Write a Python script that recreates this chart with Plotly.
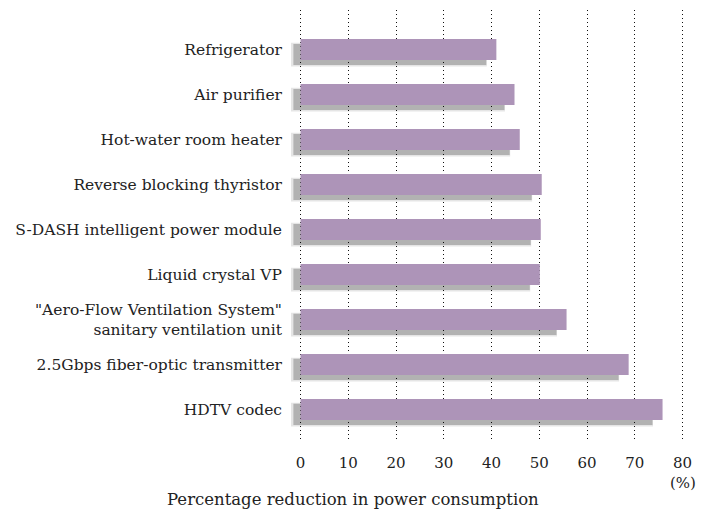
import plotly.graph_objects as go

# Appliances / devices, top to bottom
categories = [
    "Refrigerator",
    "Air purifier",
    "Hot-water room heater",
    "Reverse blocking thyristor",
    "S-DASH intelligent power module",
    "Liquid crystal VP",
    "\"Aero-Flow Ventilation System\"<br>sanitary ventilation unit",
    "2.5Gbps fiber-optic transmitter",
    "HDTV codec",
]
reduction = [41.0, 44.8, 45.9, 50.5, 50.3, 50.1, 55.7, 68.7, 75.8]
x_ticks = [0, 10, 20, 30, 40, 50, 60, 70, 80]

FONT = "DejaVu Serif, Liberation Serif, serif"
BAR_COLOR = "#ad94b8"

fig = go.Figure()

# soft drop shadow under each bar (two layers to fake a blur)
fig.add_trace(go.Bar(
    y=categories,
    x=[v + 0.2 for v in reduction],
    base=-2.2,
    orientation="h",
    width=0.53,
    offset=-0.15,
    marker=dict(color="rgba(0,0,0,0.10)", line=dict(width=0)),
    hoverinfo="skip",
    showlegend=False,
))
fig.add_trace(go.Bar(
    y=categories,
    x=[v - 0.6 for v in reduction],
    base=-1.5,
    orientation="h",
    width=0.47,
    offset=-0.125,
    marker=dict(color="rgba(0,0,0,0.22)", line=dict(width=0)),
    hoverinfo="skip",
    showlegend=False,
))

fig.add_trace(go.Bar(
    y=categories,
    x=reduction,
    orientation="h",
    width=0.47,
    marker=dict(color=BAR_COLOR, line=dict(width=0)),
    showlegend=False,
))

fig.update_layout(
    width=727,
    height=519,
    barmode="overlay",
    margin=dict(l=283, r=50, t=2, b=87),
    paper_bgcolor="white",
    plot_bgcolor="white",
    font=dict(family=FONT, size=15, color="#222222"),
    xaxis=dict(
        range=[-2, 80.5],
        tickvals=x_ticks,
        showgrid=True,
        gridcolor="#111111",
        griddash="1px,3px",
        gridwidth=1,
        zeroline=False,
        showline=False,
        ticks="",
        ticklabelstandoff=12,
        tickfont=dict(size=15),
    ),
    yaxis=dict(
        categoryorder="array",
        categoryarray=categories,
        range=[8.678, -0.878],
        showgrid=False,
        zeroline=False,
        showline=False,
        ticks="",
        ticklabelstandoff=8,
        tickfont=dict(size=15.5),
    ),
    annotations=[
        dict(text="(%)", xref="x", yref="paper", x=80, y=-0.1,
             showarrow=False, font=dict(size=15), xanchor="center", yanchor="middle"),
        dict(text="Percentage reduction in power consumption", xref="paper", yref="paper",
             x=0.157, y=-0.1395, showarrow=False, font=dict(size=16.5),
             xanchor="center", yanchor="middle"),
    ],
)

fig.write_html("out.html")
